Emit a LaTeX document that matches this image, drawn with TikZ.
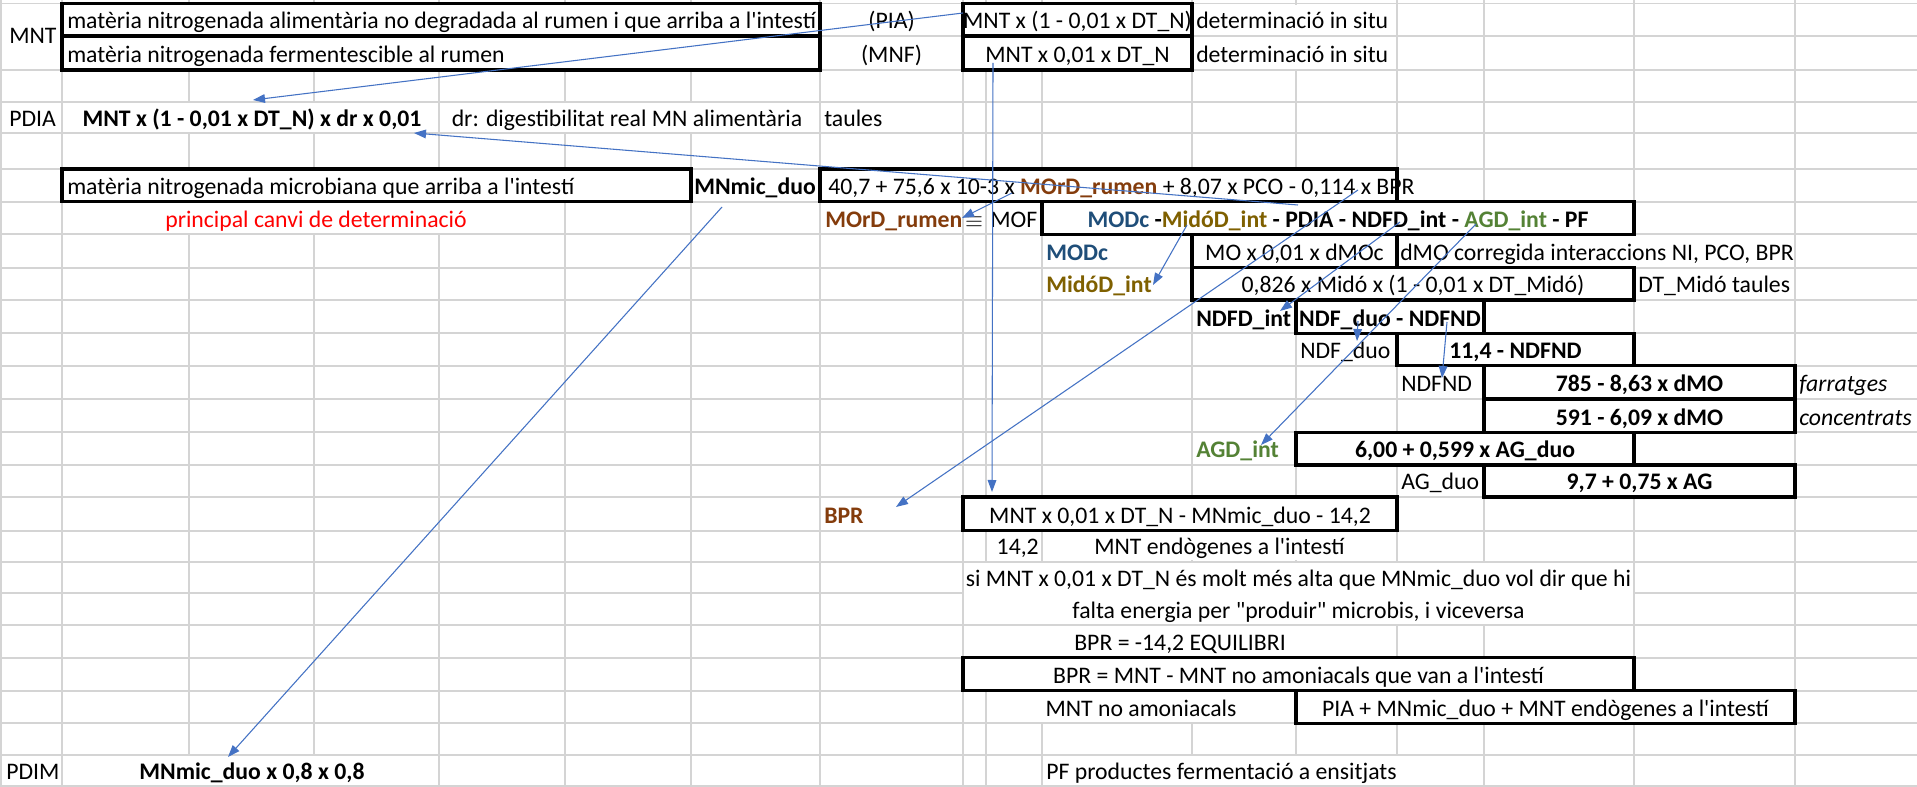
\documentclass[tikz,border=0pt]{standalone}
\usepackage{fontspec}
\setmainfont{Carlito}[Ligatures=TeXOff]
\usetikzlibrary{arrows.meta,calc}
\definecolor{gridc}{HTML}{D4D4D4}
\definecolor{arrc}{HTML}{4472C4}
\definecolor{brn}{HTML}{843C0C}
\definecolor{dblue}{HTML}{1F4E79}
\definecolor{olv}{HTML}{7F6000}
\definecolor{grn}{HTML}{548235}
\newcommand\cellmask[4]{\fill[white] ($(x#1|-y#2)+(1.3,1.3)$) rectangle ($(x#3|-y#4)+(-1.3,-1.3)$);}
\newcommand\cellbox[4]{\draw[boxline] (x#1|-y#2) rectangle (x#3|-y#4);}
\begin{document}
\begin{tikzpicture}[x=0.75pt,y=-0.75pt,
  font=\fontsize{17.8}{21}\selectfont,
  gridline/.style={draw=gridc,line width=1.4pt},
  boxline/.style={draw=black,line width=2.6pt,line join=miter},
  tx/.style={inner sep=0pt,anchor=base west},
  tm/.style={inner sep=0pt,anchor=base},
  te/.style={inner sep=0pt,anchor=base east},
  arw/.style={draw=arrc,line width=0.8pt,-{Triangle[length=9pt,width=6.5pt]}}]
\useasboundingbox (0,0) rectangle (1917,787);
\fill[white] (0,0) rectangle (1917,787);
% grid
\foreach \n/\v in {A/1,B/62,C/189,D/314,E/439,F/565,G/691,H/820,I/963,J/986,K/1042,L/1192,M/1296,N/1397,O/1484,P/1634,Q/1795}{
  \coordinate (x\n) at (\v,0);
  \draw[gridline] (\v,0) -- (\v,787);
}
\coordinate (xR) at (1917,0);
\foreach \k/\v in {0/3.5,1/36,2/70,3/101.7,4/133.3,5/169,6/201.7,7/234.3,8/267.7,9/300,10/333.3,11/365.7,12/399,13/432.3,14/465,15/497,16/530.7,17/561.7,18/593.3,19/625,20/657.7,21/690.7,22/723.3,23/755,24/786}{
  \coordinate (y\k) at (0,\v);
  \draw[gridline] (0,\v) -- (1917,\v);
}
% merged / overflow cells
\foreach \a/\b/\c/\d in {A/0/B/2,L/0/N/1,L/1/N/2,B/3/E/4,E/3/H/4,B/6/F/7,N/7/Q/8,K/16/N/17,I/17/P/19,I/19/N/20,J/21/M/22,B/23/E/24,K/23/O/24}{
  \cellmask{\a}{\b}{\c}{\d}
}
% bordered cells
\foreach \a/\b/\c/\d in {B/0/H/1,B/1/H/2,I/0/L/1,I/1/L/2,B/5/G/6,H/5/N/6,K/6/P/7,L/7/N/8,L/8/P/9,M/9/O/10,N/10/P/11,O/11/Q/12,O/12/Q/13,M/13/P/14,O/14/Q/15,I/15/N/16,I/20/P/21,M/21/Q/22}{
  \cellmask{\a}{\b}{\c}{\d}
}
\foreach \a/\b/\c/\d in {B/0/H/1,B/1/H/2,I/0/L/1,I/1/L/2,B/5/G/6,H/5/N/6,K/6/P/7,L/7/N/8,L/8/P/9,M/9/O/10,N/10/P/11,O/11/Q/12,O/12/Q/13,M/13/P/14,O/14/Q/15,I/15/N/16,I/20/P/21,M/21/Q/22}{
  \cellbox{\a}{\b}{\c}{\d}
}
% row 1-2
\node[tx] (mnt) at (9,44) {MNT};
\node[tx] (pia-def) at (67,29) {matèria nitrogenada alimentària no degradada al rumen i que arriba a l'intestí};
\node[tm] (pia) at (891.5,29) {(PIA)};
\node[tm] (pia-f) at (1077.5,29) {MNT x (1 - 0,01 x DT\_N)};
\node[tx] (pia-d) at (1196,29) {determinació in situ};
\node[tx] (mnf-def) at (67,63) {matèria nitrogenada fermentescible al rumen};
\node[tm] (mnf) at (891.5,63) {(MNF)};
\node[tm] (mnf-f) at (1077.5,63) {MNT x 0,01 x DT\_N};
\node[tx] (mnf-d) at (1196,63) {determinació in situ};
% row 4
\node[tx] (pdia) at (9,126.3) {PDIA};
\node[tm] (pdia-f) at (252,126.3) {\bfseries MNT x (1 - 0,01 x DT\_N) x dr x 0,01};
\node[tm] (dr) at (627,126.3) {dr: digestibilitat real MN alimentària};
\node[tx] (taules) at (824,126.3) {taules};
% row 6-7
\node[tx] (mic-def) at (67,194.7) {matèria nitrogenada microbiana que arriba a l'intestí};
\node[tm] (mic) at (755,194.7) {\bfseries MNmic\_duo};
\node[tx] (mic-f) at (828,194.7) {40,7 + 75,6 x 10-3 x {\bfseries\color{brn}MOrD\_rumen} + 8,07 x PCO - 0,114 x BPR};
\node[tm,text=red] (canvi) at (316,227.3) {principal canvi de determinació};
\node[tx,text=brn,font=\fontsize{17.8}{21}\selectfont\bfseries] (mord) at (825,227.3) {MOrD\_rumen};
\node[tm] (eq) at (974,227.3) {$\equiv$};
\node[tx] (mof) at (990,227.3) {MOF};
\node[tm] (mof-f) at (1338,227.3) {\bfseries{\color{dblue}MODc} -{\color{olv}MidóD\_int} - PDIA - NDFD\_int - {\color{grn}AGD\_int} - PF};
% row 8-9
\node[tx,text=dblue,font=\fontsize{17.8}{21}\selectfont\bfseries] (modc) at (1046,260.7) {MODc};
\node[tm] (modc-f) at (1294.5,260.7) {MO x 0,01 x dMOc};
\node[tx] (modc-d) at (1400,260.7) {dMO corregida interaccions NI, PCO, BPR};
\node[tx,text=olv,font=\fontsize{17.8}{21}\selectfont\bfseries] (mido) at (1046,293) {MidóD\_int};
\node[tm] (mido-f) at (1413,293) {0,826 x Midó x (1 - 0,01 x DT\_Midó)};
\node[tx] (mido-d) at (1638,293) {DT\_Midó taules};
% row 10-15
\node[tx,font=\fontsize{17.8}{21}\selectfont\bfseries] (ndfd) at (1196,326.3) {NDFD\_int};
\node[tm] (ndfd-f) at (1390,326.3) {\bfseries NDF\_duo - NDFND};
\node[tx] (ndfduo) at (1300,358.7) {NDF\_duo};
\node[tm] (ndfduo-f) at (1515.5,358.7) {\bfseries 11,4 - NDFND};
\node[tx] (ndfnd) at (1401,392) {NDFND};
\node[tm] (ndfnd-f1) at (1639.5,392) {\bfseries 785 - 8,63 x dMO};
\node[tx,font=\fontsize{17.8}{21}\selectfont\itshape] (farr) at (1799,392) {farratges};
\node[tm] (ndfnd-f2) at (1639.5,425.3) {\bfseries 591 - 6,09 x dMO};
\node[tx,font=\fontsize{17.8}{21}\selectfont\itshape] (conc) at (1799,425.3) {concentrats};
\node[tx,text=grn,font=\fontsize{17.8}{21}\selectfont\bfseries] (agd) at (1196,458) {AGD\_int};
\node[tm] (agd-f) at (1465,458) {\bfseries 6,00 + 0,599 x AG\_duo};
\node[tx] (agduo) at (1401,490) {AG\_duo};
\node[tm] (agduo-f) at (1639.5,490) {\bfseries 9,7 + 0,75 x AG};
% row 16-22
\node[tx,text=brn,font=\fontsize{17.8}{21}\selectfont\bfseries] (bpr) at (824,523.7) {BPR};
\node[tm] (bpr-f) at (1180,523.7) {MNT x 0,01 x DT\_N - MNmic\_duo - 14,2};
\node[te] (n142) at (1039,554.7) {14,2};
\node[tm] (endo) at (1219.5,554.7) {MNT endògenes a l'intestí};
\node[tm] (si1) at (1298.5,586.3) {si MNT x 0,01 x DT\_N és molt més alta que MNmic\_duo vol dir que hi};
\node[tm] (si2) at (1298.5,618) {falta energia per "produir" microbis, i viceversa};
\node[tm] (equil) at (1180,650.7) {BPR = -14,2 EQUILIBRI};
\node[tm] (bpr-def) at (1298.5,683.7) {BPR = MNT - MNT no amoniacals que van a l'intestí};
\node[tm] (noam) at (1141,716.3) {MNT no amoniacals};
\node[tm] (noam-f) at (1545.5,716.3) {PIA + MNmic\_duo + MNT endògenes a l'intestí};
% row 24
\node[tx] (pdim) at (6,779) {PDIM};
\node[tm] (pdim-f) at (252,779) {\bfseries MNmic\_duo x 0,8 x 0,8};
\node[tx] (pf) at (1046,779) {PF productes fermentació a ensitjats};
% arrow end points
\coordinate (s1) at (963,13);    \coordinate (t1) at (253,100);
\coordinate (s2) at (993,63);    \coordinate (t2) at (992,492);
\coordinate (s3) at (1298,205);  \coordinate (t3) at (414,133);
\coordinate (s4) at (1012,193);  \coordinate (t4) at (962,218);
\coordinate (s5) at (722,207);   \coordinate (t5) at (228,757);
\coordinate (s6) at (1358,190);  \coordinate (t6) at (896,507);
\coordinate (s7) at (1187,225);  \coordinate (t7) at (1153,285);
\coordinate (s8) at (1400,222);  \coordinate (t8) at (1280,311);
\coordinate (s9) at (1476,224);  \coordinate (t9) at (1261,445);
\coordinate (s10) at (1358,321); \coordinate (t10) at (1357,341);
\coordinate (s11) at (1447,322); \coordinate (t11) at (1442,378);
\foreach \i in {1,...,11}{\draw[arw] (s\i) -- (t\i);}
\end{tikzpicture}
\end{document}
